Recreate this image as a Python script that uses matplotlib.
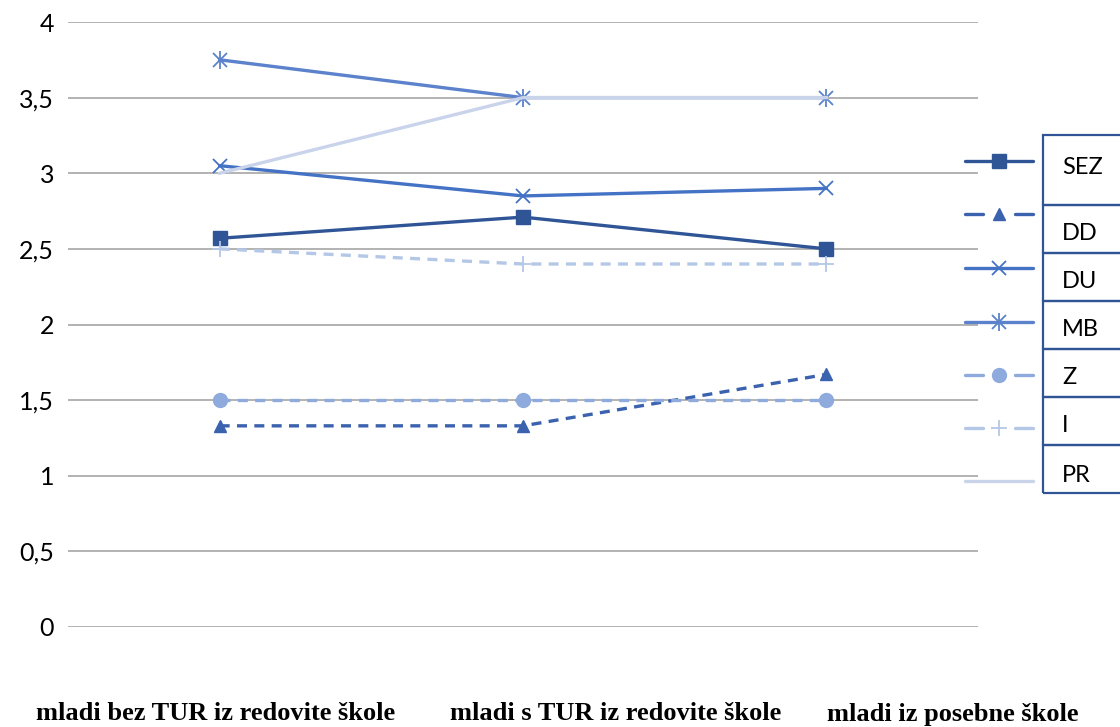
import matplotlib.pyplot as plt
from matplotlib.lines import Line2D
from matplotlib.patches import Rectangle
from matplotlib.ticker import FuncFormatter

plt.rcParams['font.family'] = ['Lato', 'DejaVu Sans']

categories = ['mladi bez TUR iz redovite škole',
              'mladi s TUR iz redovite škole',
              'mladi iz posebne škole']
series_names = ['SEZ', 'DD', 'DU', 'MB', 'Z', 'I', 'PR']
sez = [2.57, 2.71, 2.5]
dd = [1.33, 1.33, 1.67]
du = [3.05, 2.85, 2.9]
mb = [3.75, 3.5, 3.5]
z = [1.5, 1.5, 1.5]
i_vals = [2.5, 2.4, 2.4]
pr = [3.0, 3.5, 3.5]
values = [sez, dd, du, mb, z, i_vals, pr]

dash = (0, (3, 2.2))
styles = {
    'SEZ': dict(color='#2F5597', marker='s', ms=10, ls='-'),
    'DD': dict(color='#3A62AE', marker='^', ms=9, ls=dash),
    'DU': dict(color='#4472C4', marker='x', ms=10, ls='-', mew=1.3),
    'MB': dict(color='#5B82CB', marker='x', ms=10, ls='-', mew=1.3, extra='|'),
    'Z': dict(color='#8FAADC', marker='o', ms=10, ls=dash),
    'I': dict(color='#B4C7E7', marker='+', ms=11, ls=dash, mew=1.3),
    'PR': dict(color='#C9D3EA', marker=None, ms=0, ls='-'),
}

fig = plt.figure(figsize=(11.2, 7.27), dpi=100)
ax = fig.add_axes([68 / 1120, 1 - 627 / 727, 910 / 1120, 605 / 727])

x = list(range(len(categories)))
for name, vals in zip(series_names, values):
    st = styles[name]
    ax.plot(x, vals, color=st['color'], marker=st['marker'], markersize=st['ms'],
            linestyle=st['ls'], linewidth=2.4, markeredgewidth=st.get('mew', 1),
            zorder=3)
    if 'extra' in st:
        ax.plot(x, vals, color=st['color'], marker=st['extra'], markersize=st['ms'] + 3,
                linestyle='none', markeredgewidth=st.get('mew', 1), zorder=3)

ax.set_xlim(-0.5, 2.5)
ax.set_ylim(0, 4)
ax.set_yticks([0, 0.5, 1, 1.5, 2, 2.5, 3, 3.5, 4])
ax.yaxis.set_major_formatter(FuncFormatter(lambda v, p: ('%g' % v).replace('.', ',')))
ax.tick_params(axis='y', length=0, labelsize=18, pad=10)
ax.set_xticks([])
ax.grid(axis='y', color='#A6A6A6', linewidth=1.2)
for s in ax.spines.values():
    s.set_visible(False)

# category labels below the plot
label_x = [216, 616, 953]
for lab, lx in zip(categories, label_x):
    fig.text(lx / 1120, 1 - 714 / 727, lab, ha='center', va='center',
             family='Liberation Serif', fontweight='bold', fontsize=19)

# boxed legend on the right
box_edges = [135, 205, 253, 301, 349, 397, 445, 493]
text_y = [167, 234, 281, 329, 377, 425, 475]
line_y = [161, 214, 268, 322, 375, 428, 481]
for k, name in enumerate(series_names):
    st = styles[name]
    top, bot = box_edges[k], box_edges[k + 1]
    fig.add_artist(Rectangle((1043 / 1120, 1 - bot / 727), 90 / 1120, (bot - top) / 727,
                             transform=fig.transFigure, fill=False,
                             edgecolor='#2F5597', linewidth=1.6))
    fig.text(1062 / 1120, 1 - text_y[k] / 727, name, ha='left', va='center', fontsize=17)
    ly = 1 - line_y[k] / 727
    if st['ls'] == '-':
        segs = [(965, 1033)]
    else:
        segs = [(965, 983), (1015, 1033)]
    for a, b in segs:
        fig.add_artist(Line2D([a / 1120, b / 1120], [ly, ly], transform=fig.transFigure,
                              color=st['color'], linewidth=2.4, solid_capstyle='round'))
    for mk, extra_size in [(st['marker'], 0), (st.get('extra'), 3)]:
        if mk is not None:
            fig.add_artist(Line2D([999 / 1120], [ly], transform=fig.transFigure,
                                  color=st['color'], marker=mk,
                                  markersize=st['ms'] + extra_size,
                                  markeredgewidth=st.get('mew', 1), linestyle='none'))

fig.savefig('out.png', dpi=100)
